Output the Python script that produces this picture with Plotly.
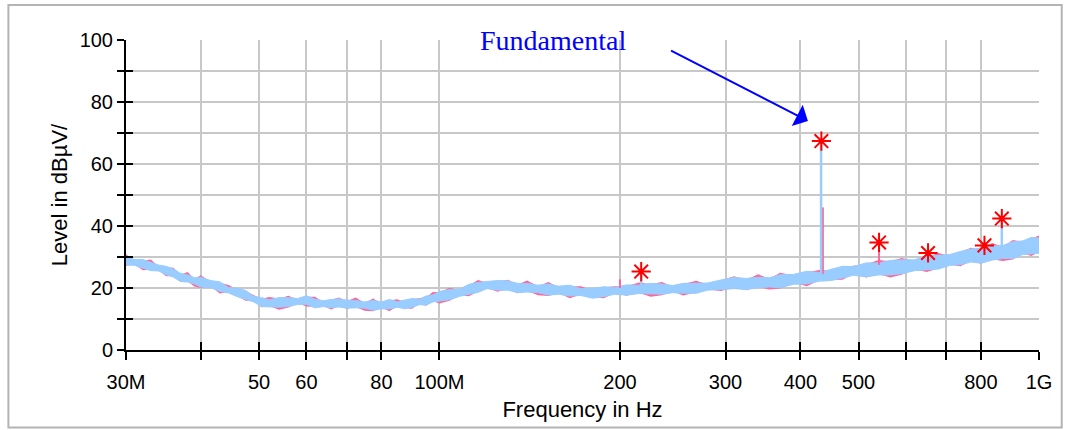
import numpy as np
import plotly.graph_objects as go

# ---- data (frequency in MHz, level in dBµV) ----
freq = [30, 31, 32, 33, 34, 35, 36, 37, 38, 39, 40, 41.5, 43, 44.5, 46, 47.5, 49, 50.5, 52, 54,
        56, 58, 60, 62, 64, 66, 68, 70, 72.5, 75, 77.5, 80, 82.5, 85, 87.5, 90, 92.5, 95, 97.5, 100,
        104, 108, 112, 116, 120, 125, 130, 135, 140, 146, 152, 158, 165, 172, 180, 188, 196, 205, 215, 225,
        235, 245, 255, 268, 280, 295, 310, 325, 340, 355, 370, 390, 410, 430, 450, 470, 490, 515, 540, 565,
        590, 620, 650, 680, 710, 740, 770, 800, 835, 870, 905, 940, 970, 1000]

blue_hi = [30.3, 29.2, 29.2, 28.4, 27.4, 27.0, 26.1, 24.7, 24.3, 23.3, 23.5, 22.4, 22.0, 20.2, 19.9, 19.2, 17.3, 16.9, 16.2, 16.9,
           16.9, 16.6, 17.5, 16.4, 15.9, 16.3, 16.5, 16.1, 16.0, 15.5, 16.0, 15.5, 16.3, 15.6, 16.0, 16.6, 16.4, 17.4, 17.8, 18.9,
           19.5, 19.6, 21.2, 21.8, 22.1, 22.4, 22.3, 21.5, 21.5, 20.9, 21.3, 20.6, 20.9, 19.8, 19.8, 20.4, 20.2, 21.0, 20.9, 21.5,
           21.3, 20.8, 21.5, 21.5, 21.6, 22.6, 23.4, 23.1, 23.5, 23.3, 24.3, 24.4, 25.4, 25.0, 26.1, 27.0, 26.9, 28.1, 28.1, 28.9,
           29.1, 29.1, 30.3, 30.5, 30.8, 31.8, 32.6, 32.8, 33.6, 33.7, 34.9, 35.2, 36.3, 36.1]
blue_lo = [27.4, 27.3, 26.4, 25.6, 25.5, 24.3, 23.5, 22.1, 21.9, 21.3, 20.3, 20.2, 18.9, 18.4, 17.2, 16.4, 15.5, 14.0, 13.9, 13.8,
           14.0, 14.7, 14.7, 13.6, 14.0, 13.6, 13.9, 13.5, 13.6, 13.5, 12.8, 13.3, 13.2, 13.8, 13.3, 13.8, 14.6, 14.5, 15.5, 15.8,
           16.2, 17.3, 18.0, 18.6, 19.8, 19.3, 19.3, 18.5, 18.7, 18.5, 17.7, 18.0, 17.4, 17.6, 16.7, 17.2, 18.0, 17.7, 18.2, 18.0,
           18.0, 18.5, 18.3, 18.3, 19.3, 19.5, 19.8, 19.5, 20.1, 20.3, 20.1, 21.2, 21.3, 22.2, 22.4, 23.2, 24.1, 23.6, 24.2, 24.2,
           24.6, 25.6, 25.9, 26.1, 27.3, 27.5, 28.4, 28.0, 29.0, 29.5, 29.5, 30.8, 31.0, 31.2]
pink_hi = [30.9, 28.8, 28.9, 29.2, 26.9, 26.8, 26.5, 24.3, 25.2, 23.0, 24.1, 22.0, 21.7, 21.0, 19.4, 19.0, 17.7, 16.5, 17.1, 16.6,
           17.5, 16.2, 17.2, 17.2, 15.4, 16.1, 16.9, 15.7, 16.9, 15.2, 16.6, 15.1, 16.0, 16.4, 15.5, 16.4, 16.8, 17.0, 18.7, 18.6,
           20.1, 19.2, 20.9, 22.6, 21.6, 22.2, 22.7, 21.1, 22.4, 20.6, 21.9, 20.2, 20.6, 20.6, 19.3, 20.2, 20.6, 20.6, 21.8, 21.2,
           21.9, 20.4, 21.2, 22.3, 21.1, 22.4, 23.8, 22.7, 24.4, 23.0, 24.9, 24.0, 25.1, 25.8, 25.6, 26.8, 27.3, 27.7, 29.0, 28.6,
           29.7, 28.7, 30.0, 31.3, 30.3, 31.6, 33.0, 32.4, 34.5, 33.4, 35.5, 34.8, 36.0, 36.9]
pink_lo = [27.1, 27.7, 25.7, 25.9, 25.7, 23.8, 23.9, 21.9, 22.2, 20.5, 20.0, 20.6, 18.2, 18.7, 17.4, 15.9, 15.9, 13.8, 14.2, 13.0,
           13.7, 15.1, 14.0, 13.9, 14.2, 13.1, 14.3, 13.3, 13.9, 12.7, 12.5, 13.7, 12.5, 14.1, 13.5, 13.3, 15.0, 14.3, 15.8, 15.0,
           15.9, 17.7, 17.3, 18.9, 20.0, 18.8, 19.7, 18.3, 19.0, 17.7, 17.4, 18.4, 16.7, 17.9, 16.9, 16.7, 18.4, 17.5, 18.5, 17.2,
           17.7, 18.9, 17.6, 18.6, 19.5, 19.0, 20.2, 19.3, 20.4, 19.5, 19.8, 21.6, 20.6, 22.5, 22.6, 22.7, 24.5, 23.4, 24.5, 23.4,
           24.3, 26.0, 25.2, 26.4, 27.5, 27.0, 28.8, 27.8, 29.3, 28.7, 29.2, 31.2, 30.3, 31.5]

# narrow emissions standing out of the noise floor
spike_freq = [200, 217, 433, 436, 541, 653, 811, 867]
spike_base = [20.0, 20.5, 24.5, 24.5, 27.5, 29.0, 32.0, 33.0]
spike_top = [22.8, 24.8, 67.0, 46.0, 34.4, 32.0, 33.9, 41.9]
spike_series = ["pink", "blue", "blue", "pink", "pink", "pink", "pink", "blue"]

# detected peaks (red asterisks)
peak_freq = [217, 433.5, 541, 653, 811, 867]
peak_level = [25.3, 67.4, 34.7, 31.3, 33.75, 42.4]

x_tickvals = [30, 40, 50, 60, 70, 80, 100, 200, 300, 400, 500, 600, 700, 800, 1000]
x_ticktext = ["30M", "", "50", "60", "", "80", "100M", "200", "300", "400", "500", "", "", "800", "1G"]
y_tickvals = [0, 10, 20, 30, 40, 50, 60, 70, 80, 90, 100]
y_ticktext = ["0", "", "20", "", "40", "", "60", "", "80", "", "100"]

PINK = "#ff6699"
BLUE = "#99ccff"
FONT = "Liberation Sans, Arial, sans-serif"

fig = go.Figure()

# pink band (drawn first, under the blue one)
fig.add_trace(go.Scatter(x=freq, y=pink_lo, mode="lines", line=dict(color=PINK, width=0),
                         showlegend=False, hoverinfo="skip"))
fig.add_trace(go.Scatter(x=freq, y=pink_hi, mode="lines", line=dict(color=PINK, width=0),
                         fill="tonexty", fillcolor=PINK, showlegend=False, hoverinfo="skip"))
# blue band
fig.add_trace(go.Scatter(x=freq, y=blue_lo, mode="lines", line=dict(color=BLUE, width=1),
                         showlegend=False, hoverinfo="skip"))
fig.add_trace(go.Scatter(x=freq, y=blue_hi, mode="lines", line=dict(color=BLUE, width=1),
                         fill="tonexty", fillcolor=BLUE, showlegend=False, hoverinfo="skip"))

# spikes
for series, color, width in (("pink", PINK, 2), ("blue", BLUE, 2.5)):
    xs, ys = [], []
    for f, b, t, s in zip(spike_freq, spike_base, spike_top, spike_series):
        if s == series:
            xs += [f, f, None]
            ys += [b, t, None]
    fig.add_trace(go.Scatter(x=xs, y=ys, mode="lines", line=dict(color=color, width=width),
                             showlegend=False, hoverinfo="skip"))

# peak markers
fig.add_trace(go.Scatter(x=peak_freq, y=peak_level, mode="markers",
                         marker=dict(symbol="asterisk-open", size=16, color="#ff0000",
                                     line=dict(color="#ff0000", width=2)),
                         showlegend=False, hoverinfo="skip"))

# overlay axes carrying the inner half of the crossing tick marks
fig.add_trace(go.Scatter(x=[], y=[], xaxis="x2", yaxis="y2", showlegend=False, hoverinfo="skip"))

xr = [np.log10(30), np.log10(1000)]
fig.update_layout(
    width=1065, height=430, autosize=False,
    margin=dict(l=126, r=26, t=40, b=80, autoexpand=False),
    paper_bgcolor="white", plot_bgcolor="white",
    font=dict(family=FONT, size=20, color="black"),
    xaxis=dict(type="log", range=xr, tickvals=x_tickvals, ticktext=x_ticktext,
               showgrid=True, gridcolor="#c8c8c8", gridwidth=2,
               showline=True, linecolor="black", linewidth=2,
               ticks="outside", ticklen=8, tickwidth=2, tickcolor="black",
               ticklabelstandoff=5, tickfont=dict(size=20), automargin=False,
               title=dict(text="Frequency in Hz", font=dict(size=22), standoff=10),
               zeroline=False),
    yaxis=dict(range=[0, 100], tickvals=y_tickvals, ticktext=y_ticktext,
               showgrid=True, gridcolor="#c8c8c8", gridwidth=2,
               showline=True, linecolor="black", linewidth=2,
               ticks="outside", ticklen=7, tickwidth=2, tickcolor="black",
               ticklabelstandoff=0, tickfont=dict(size=20), automargin=False,
               title=dict(text="Level in dBµV/", font=dict(size=22), standoff=6),
               zeroline=False),
    xaxis2=dict(type="log", range=xr, tickvals=x_tickvals, overlaying="x", anchor="y",
                side="bottom", ticks="inside", ticklen=8, tickwidth=2, tickcolor="black",
                showticklabels=False, showgrid=False, showline=False, zeroline=False, automargin=False),
    yaxis2=dict(range=[0, 100], tickvals=y_tickvals, overlaying="y", anchor="x",
                side="left", ticks="inside", ticklen=7, tickwidth=2, tickcolor="black",
                showticklabels=False, showgrid=False, showline=False, zeroline=False, automargin=False),
    showlegend=False,
)

# "Fundamental" callout
fig.add_annotation(x=np.log10(154.6), y=99.8, xref="x", yref="y", text="Fundamental",
                   showarrow=False, font=dict(family="Liberation Serif, Times New Roman, serif",
                                              size=28, color="#0000ff"))
fig.add_annotation(x=np.log10(411.7), y=73.9, xref="x", yref="y",
                   ax=np.log10(242), ay=96.8, axref="x", ayref="y",
                   showarrow=True, arrowhead=1, arrowsize=2, arrowwidth=2,
                   arrowcolor="#0000ff", text="")

# outer frame
fig.add_shape(type="rect", xref="paper", yref="paper", x0=-0.1288, x1=1.0249, y0=-0.25, y1=1.1129,
              line=dict(color="#b4b4b4", width=2), layer="below")

fig.write_html("out.html", config={"displayModeBar": False},
               post_script="document.body.style.margin='0px';")
